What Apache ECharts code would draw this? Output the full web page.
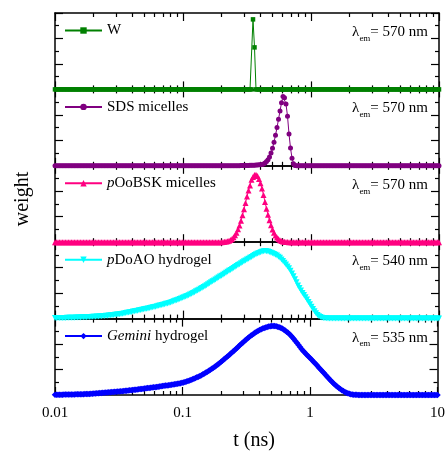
<!DOCTYPE html>
<html>
<head>
<meta charset="utf-8">
<script src="https://cdn.jsdelivr.net/npm/echarts@6/dist/echarts.min.js"></script>
<style>
html, body { margin: 0; padding: 0; background: #fff; }
#main { width: 448px; height: 451px; }
</style>
</head>
<body>
<div id="main"></div>
<script>
// lifetime grid shared by all distributions: 257 log-spaced tau values, 0.01 .. 10 ns
const tauMin = 0.01, tauMax = 10, tauCount = 257;

const names = ['W', 'SDS micelles', 'pOoBSK micelles', 'pDoAO hydrogel', 'Gemini hydrogel'];
const lambdas = ['570', '570', '570', '540', '535'];
const colors = ['#008000', '#800080', '#ff0080', '#00ffff', '#0000ff'];

// weights; index of first listed point on the tau grid, zero elsewhere
const wStart = 132;
const wValues = [5.5, 3.3];

const sdsStart = 120;
const sdsValues = [
    0.01, 0.01, 0.01, 0.01, 0.015, 0.02, 0.02, 0.025, 0.03, 0.03,
    0.035, 0.04, 0.045, 0.05, 0.055, 0.065, 0.075, 0.09, 0.11, 0.15,
    0.22, 0.33, 0.48, 0.7, 1.0, 1.38, 1.85, 2.4, 3.0, 3.65,
    4.3, 4.95, 5.45, 5.35, 4.85, 3.9, 2.5, 1.4, 0.6, 0.17, 0.03
];

const poobskStart = 112;
const poobskValues = [
    0.02, 0.03, 0.05, 0.08, 0.12, 0.18, 0.26, 0.38, 0.54, 0.75,
    1.01, 1.32, 1.69, 2.12, 2.59, 3.08, 3.58, 4.06, 4.45, 4.9,
    5.12, 5.27, 5.3, 5.19, 4.96, 4.63, 4.21, 3.7, 3.15, 2.62,
    2.15, 1.72, 1.33, 1.0, 0.74, 0.53, 0.37, 0.25, 0.16, 0.1,
    0.06, 0.04, 0.02, 0.01
];

const pdoaoStart = 0;
const pdoaoValues = [
    0.04, 0.04, 0.04, 0.045, 0.05, 0.05, 0.05, 0.055, 0.06, 0.065,
    0.07, 0.07, 0.07, 0.075, 0.08, 0.085, 0.09, 0.095, 0.10, 0.105,
    0.11, 0.115, 0.12, 0.125, 0.13, 0.14, 0.15, 0.155, 0.16, 0.17,
    0.18, 0.19, 0.2, 0.21, 0.22, 0.23, 0.24, 0.255, 0.27, 0.285,
    0.3, 0.315, 0.33, 0.35, 0.37, 0.39, 0.41, 0.435, 0.46, 0.48,
    0.5, 0.525, 0.55, 0.575, 0.6, 0.625, 0.65, 0.675, 0.7, 0.725,
    0.75, 0.775, 0.8, 0.83, 0.86, 0.885, 0.91, 0.94, 0.97, 1.0,
    1.03, 1.06, 1.09, 1.125, 1.16, 1.195, 1.23, 1.27, 1.31, 1.355,
    1.4, 1.445, 1.49, 1.535, 1.58, 1.63, 1.68, 1.73, 1.78, 1.835,
    1.89, 1.95, 2.01, 2.075, 2.14, 2.205, 2.27, 2.34, 2.41, 2.48,
    2.55, 2.625, 2.7, 2.775, 2.85, 2.925, 3.0, 3.075, 3.15, 3.225,
    3.3, 3.375, 3.45, 3.525, 3.6, 3.675, 3.75, 3.825, 3.9, 3.975,
    4.05, 4.125, 4.2, 4.275, 4.35, 4.425, 4.5, 4.57, 4.64, 4.705,
    4.77, 4.845, 4.92, 4.985, 5.05, 5.105, 5.16, 5.21, 5.25, 5.28,
    5.3, 5.29, 5.27, 5.23, 5.18, 5.13, 5.08, 5.02, 4.95, 4.86,
    4.77, 4.65, 4.52, 4.39, 4.25, 4.1, 3.95, 3.75, 3.55, 3.33,
    3.1, 2.85, 2.6, 2.4, 2.2, 2.02, 1.85, 1.68, 1.5, 1.31,
    1.12, 0.93, 0.75, 0.58, 0.42, 0.29, 0.18, 0.12, 0.07, 0.05,
    0.03, 0.02, 0.01
];

const geminiStart = 0;
const geminiValues = [
    0.02, 0.02, 0.02, 0.02, 0.02, 0.025, 0.03, 0.03, 0.03, 0.035,
    0.04, 0.04, 0.04, 0.045, 0.05, 0.055, 0.06, 0.06, 0.06, 0.065,
    0.07, 0.075, 0.08, 0.085, 0.09, 0.1, 0.11, 0.12, 0.13, 0.14,
    0.15, 0.16, 0.17, 0.18, 0.19, 0.2, 0.21, 0.22, 0.23, 0.24,
    0.25, 0.26, 0.27, 0.28, 0.29, 0.3, 0.31, 0.325, 0.34, 0.355,
    0.37, 0.38, 0.39, 0.405, 0.42, 0.435, 0.45, 0.465, 0.48, 0.495,
    0.51, 0.525, 0.54, 0.555, 0.57, 0.585, 0.6, 0.615, 0.63, 0.65,
    0.67, 0.685, 0.7, 0.72, 0.74, 0.755, 0.77, 0.785, 0.8, 0.82,
    0.84, 0.86, 0.88, 0.905, 0.93, 0.96, 0.99, 1.025, 1.06, 1.1,
    1.14, 1.185, 1.23, 1.28, 1.33, 1.385, 1.44, 1.5, 1.56, 1.625,
    1.69, 1.76, 1.83, 1.905, 1.98, 2.06, 2.14, 2.225, 2.31, 2.4,
    2.49, 2.585, 2.68, 2.78, 2.88, 2.98, 3.08, 3.185, 3.29, 3.395,
    3.5, 3.61, 3.72, 3.83, 3.94, 4.045, 4.15, 4.255, 4.36, 4.46,
    4.56, 4.645, 4.73, 4.815, 4.9, 4.97, 5.04, 5.1, 5.16, 5.215,
    5.27, 5.31, 5.35, 5.375, 5.4, 5.41, 5.42, 5.41, 5.4, 5.365,
    5.33, 5.275, 5.22, 5.145, 5.07, 4.975, 4.88, 4.765, 4.65, 4.515,
    4.38, 4.23, 4.08, 3.92, 3.76, 3.62, 3.48, 3.35, 3.22, 3.1,
    2.98, 2.86, 2.74, 2.62, 2.5, 2.37, 2.24, 2.11, 1.98, 1.85,
    1.72, 1.59, 1.46, 1.33, 1.2, 1.08, 0.96, 0.85, 0.74, 0.645,
    0.55, 0.465, 0.38, 0.31, 0.24, 0.185, 0.13, 0.095, 0.06, 0.04,
    0.02, 0.015, 0.01
];

const majorTicks = [0.01, 0.1, 1, 10];
const minorTicks = [0.02, 0.03, 0.04, 0.05, 0.06, 0.07, 0.08, 0.09,
    0.2, 0.3, 0.4, 0.5, 0.6, 0.7, 0.8, 0.9,
    2, 3, 4, 5, 6, 7, 8, 9];

const starts = [wStart, sdsStart, poobskStart, pdoaoStart, geminiStart];
const valueLists = [wValues, sdsValues, poobskValues, pdoaoValues, geminiValues];
const symbols = ['rect', 'circle', 'triangle', 'path://M0,0 L10,0 L5,9 Z', 'diamond'];
const symbolSizes = [4.5, 5, 6, 6, 6.5];

let tau = [];
for (let i = 0; i < tauCount; i++) {
    tau.push(tauMin * Math.pow(tauMax / tauMin, i / (tauCount - 1)));
}

function buildData(start, values) {
    return tau.map((t, i) => {
        let v = (i >= start && i < start + values.length) ? values[i - start] : 0;
        return [t, v];
    });
}

const serif = 'Liberation Serif';
const plotLeft = 55, plotRight = 439, plotTop = 13, plotBottom = 395;
const panelH = (plotBottom - plotTop) / 5;

let grids = [], xAxes = [], yAxes = [], series = [], legends = [], graphics = [];

function xAxisDef(k, pos, minor) {
    let ticks = minor ? minorTicks : majorTicks;
    let showLabel = (k === 4 && pos === 'bottom' && !minor);
    return {
        type: 'log', logBase: 10, gridIndex: k, position: pos,
        min: 0.01, max: 10,
        axisLine: { show: !minor, onZero: false, lineStyle: { color: '#000', width: 1.5 } },
        axisTick: { show: true, inside: true, length: minor ? 4 : 8, customValues: ticks,
            lineStyle: { color: '#000', width: 1.2 } },
        axisLabel: { show: showLabel, customValues: ticks, margin: 11,
            fontFamily: serif, fontSize: 15, color: '#000',
            showMinLabel: true, showMaxLabel: true },
        splitLine: { show: false },
        minorTick: { show: false }
    };
}

function yAxisDef(k, pos) {
    return {
        type: 'value', gridIndex: k, position: pos,
        min: 0, max: 6, interval: 2,
        axisLine: { show: true, onZero: false, lineStyle: { color: '#000', width: 1.5 } },
        axisTick: { show: true, inside: true, length: 8, lineStyle: { color: '#000', width: 1.2 } },
        minorTick: { show: true, splitNumber: 2, length: 4, lineStyle: { color: '#000', width: 1.2 } },
        axisLabel: { show: false },
        splitLine: { show: false }
    };
}

for (let k = 0; k < 5; k++) {
    let top = plotTop + panelH * k;
    grids.push({ left: plotLeft, width: plotRight - plotLeft, top: top, height: panelH });

    xAxes.push(xAxisDef(k, 'bottom', false));
    xAxes.push(xAxisDef(k, 'bottom', true));
    xAxes.push(xAxisDef(k, 'top', false));
    xAxes.push(xAxisDef(k, 'top', true));

    yAxes.push(yAxisDef(k, 'left'));
    yAxes.push(yAxisDef(k, 'right'));

    series.push({
        name: names[k],
        type: 'line',
        xAxisIndex: 4 * k,
        yAxisIndex: 2 * k,
        data: buildData(starts[k], valueLists[k]),
        symbol: symbols[k],
        symbolSize: symbolSizes[k],
        showSymbol: true,
        showAllSymbol: true,
        lineStyle: { color: colors[k], width: 1 },
        itemStyle: { color: colors[k] },
        emphasis: { disabled: true }
    });

    legends.push({
        data: [names[k]],
        left: 64, top: top + 10, padding: 0,
        itemWidth: 37, itemHeight: 8,
        selectedMode: false,
        formatter: function(name) {
            if (name === 'pOoBSK micelles') return '{i|p}OoBSK micelles';
            if (name === 'pDoAO hydrogel') return '{i|p}DoAO hydrogel';
            if (name === 'Gemini hydrogel') return '{i|Gemini} hydrogel';
            return name;
        },
        textStyle: {
            fontFamily: serif, fontSize: 15, color: '#000',
            rich: { i: { fontFamily: serif, fontSize: 15, fontStyle: 'italic', color: '#000' } }
        }
    });

    graphics.push({
        type: 'text', x: 428, y: top + 19,
        style: {
            text: '{l|\u03bb}{s|em}{n|= ' + lambdas[k] + ' nm}',
            align: 'right', verticalAlign: 'middle',
            rich: {
                l: { fontFamily: serif, fontSize: 15, lineHeight: 22, fill: '#000' },
                s: { fontFamily: serif, fontSize: 9, verticalAlign: 'bottom', fill: '#000' },
                n: { fontFamily: serif, fontSize: 15, lineHeight: 22, fill: '#000' }
            }
        }
    });
}

graphics.push({
    type: 'text', x: 23, y: 199, rotation: Math.PI / 2,
    style: { text: 'weight', fontFamily: serif, fontSize: 20, fill: '#000',
        align: 'center', verticalAlign: 'middle' }
});
graphics.push({
    type: 'text', x: 254, y: 441,
    style: { text: 't (ns)', fontFamily: serif, fontSize: 20, fill: '#000',
        align: 'center', verticalAlign: 'middle' }
});

let chart = echarts.init(document.getElementById('main'));
chart.setOption({
    animation: false,
    backgroundColor: '#fff',
    grid: grids,
    xAxis: xAxes,
    yAxis: yAxes,
    legend: legends,
    series: series,
    graphic: graphics
});
</script>
</body>
</html>
